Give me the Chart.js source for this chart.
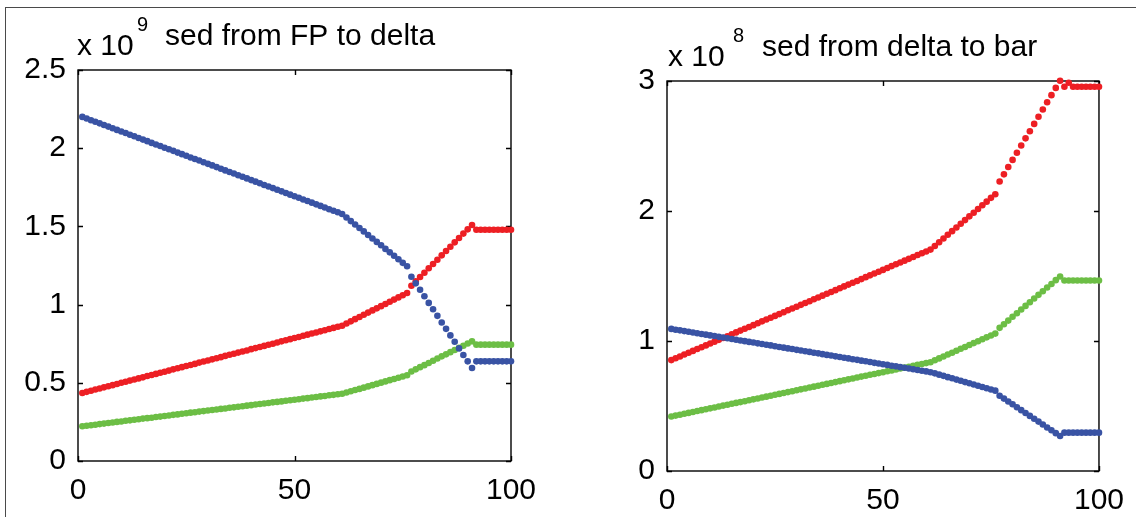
<!DOCTYPE html>
<html>
<head>
<meta charset="utf-8">
<script src="https://cdn.jsdelivr.net/npm/chart.js@4.4.1/dist/chart.umd.min.js"></script>
<style>
  html, body { margin: 0; padding: 0; background: #fff; }
  #page { position: relative; width: 1136px; height: 517px; overflow: hidden; background: #fff; }
  #frame { position: absolute; left: 5px; top: 7px; right: -5px; bottom: -5px;
           border-top: 1.5px solid #4a4a4a; border-left: 1.5px solid #4a4a4a; }
  canvas { position: absolute; top: 0; }
  #cLeft { left: 0; }
  #cRight { left: 568px; }
</style>
</head>
<body>
<div id="page">
  <div id="frame"></div>
  <canvas id="cLeft" width="568" height="517"></canvas>
  <canvas id="cRight" width="568" height="517"></canvas>
</div>
<script>
// Sample index along the run (1..100)
const steps = Array.from({ length: 100 }, (_, i) => i + 1);

// Sediment moved from FP to delta (units of 1e9)
const fpBlue = [
  2.200,2.190,2.179,2.169,2.159,2.148,2.138,2.128,2.117,2.107,
  2.097,2.086,2.076,2.065,2.055,2.045,2.034,2.024,2.014,2.003,
  1.993,1.983,1.972,1.962,1.952,1.941,1.931,1.921,1.910,1.900,
  1.890,1.879,1.869,1.858,1.848,1.838,1.827,1.817,1.807,1.796,
  1.786,1.776,1.765,1.755,1.745,1.734,1.724,1.714,1.703,1.693,
  1.683,1.672,1.662,1.652,1.641,1.631,1.621,1.610,1.600,1.590,
  1.579,1.557,1.534,1.512,1.490,1.468,1.445,1.423,1.401,1.379,
  1.356,1.334,1.312,1.290,1.267,1.245,1.178,1.136,1.095,1.053,
  1.011,0.970,0.928,0.886,0.845,0.803,0.762,0.720,0.678,0.637,
  0.595,0.637,0.637,0.637,0.637,0.637,0.637,0.637,0.637,0.637];
const fpRed = [
  0.435,0.442,0.449,0.457,0.464,0.471,0.478,0.485,0.492,0.500,
  0.507,0.514,0.521,0.528,0.535,0.543,0.550,0.557,0.564,0.571,
  0.578,0.586,0.593,0.600,0.607,0.614,0.621,0.629,0.636,0.643,
  0.650,0.657,0.664,0.672,0.679,0.686,0.693,0.700,0.707,0.715,
  0.722,0.729,0.736,0.743,0.750,0.758,0.765,0.772,0.779,0.786,
  0.793,0.801,0.808,0.815,0.822,0.829,0.836,0.844,0.851,0.858,
  0.865,0.879,0.893,0.907,0.921,0.935,0.949,0.963,0.976,0.990,
  1.004,1.018,1.032,1.046,1.060,1.074,1.121,1.149,1.176,1.204,
  1.232,1.260,1.287,1.315,1.343,1.370,1.398,1.426,1.454,1.481,
  1.509,1.479,1.479,1.479,1.479,1.479,1.479,1.479,1.479,1.479];
const fpGreen = [
  0.222,0.225,0.229,0.232,0.236,0.239,0.243,0.246,0.250,0.253,
  0.257,0.260,0.264,0.267,0.271,0.274,0.277,0.281,0.284,0.288,
  0.291,0.295,0.298,0.302,0.305,0.309,0.312,0.316,0.319,0.323,
  0.326,0.329,0.333,0.336,0.340,0.343,0.347,0.350,0.354,0.357,
  0.361,0.364,0.368,0.371,0.375,0.378,0.381,0.385,0.388,0.392,
  0.395,0.399,0.402,0.406,0.409,0.413,0.416,0.420,0.423,0.427,
  0.430,0.438,0.446,0.454,0.461,0.469,0.477,0.485,0.493,0.501,
  0.509,0.517,0.524,0.532,0.540,0.548,0.572,0.586,0.600,0.613,
  0.627,0.641,0.655,0.669,0.682,0.696,0.710,0.724,0.737,0.751,
  0.765,0.744,0.744,0.744,0.744,0.744,0.744,0.744,0.744,0.744];

// Sediment moved from delta to bar (units of 1e8)
const barRed = [
  0.853,0.867,0.881,0.896,0.910,0.924,0.938,0.952,0.966,0.981,
  0.995,1.009,1.023,1.037,1.051,1.066,1.080,1.094,1.108,1.122,
  1.136,1.151,1.165,1.179,1.193,1.207,1.221,1.236,1.250,1.264,
  1.278,1.292,1.306,1.321,1.335,1.349,1.363,1.377,1.391,1.406,
  1.420,1.434,1.448,1.462,1.476,1.491,1.505,1.519,1.533,1.547,
  1.561,1.576,1.590,1.604,1.618,1.632,1.646,1.661,1.675,1.689,
  1.703,1.731,1.760,1.788,1.817,1.845,1.873,1.902,1.930,1.959,
  1.987,2.015,2.044,2.072,2.101,2.129,2.227,2.282,2.338,2.393,
  2.448,2.504,2.559,2.614,2.670,2.725,2.781,2.836,2.891,2.947,
  3.002,2.956,2.987,2.956,2.956,2.956,2.956,2.956,2.956,2.956];
const barGreen = [
  0.419,0.426,0.433,0.440,0.447,0.454,0.461,0.468,0.475,0.482,
  0.489,0.496,0.503,0.510,0.517,0.524,0.530,0.537,0.544,0.551,
  0.558,0.565,0.572,0.579,0.586,0.593,0.600,0.607,0.614,0.621,
  0.628,0.635,0.642,0.649,0.656,0.663,0.670,0.677,0.684,0.691,
  0.698,0.705,0.712,0.719,0.726,0.733,0.740,0.746,0.753,0.760,
  0.767,0.774,0.781,0.788,0.795,0.802,0.809,0.816,0.823,0.830,
  0.837,0.852,0.866,0.881,0.896,0.910,0.925,0.940,0.954,0.969,
  0.984,0.998,1.013,1.028,1.042,1.057,1.101,1.129,1.157,1.186,
  1.214,1.242,1.270,1.298,1.327,1.355,1.383,1.411,1.439,1.468,
  1.496,1.465,1.465,1.465,1.465,1.465,1.465,1.465,1.465,1.465];
const barBlue = [
  1.093,1.087,1.082,1.076,1.071,1.065,1.060,1.054,1.049,1.043,
  1.038,1.032,1.027,1.021,1.015,1.010,1.004,0.999,0.993,0.988,
  0.982,0.977,0.971,0.966,0.960,0.954,0.949,0.943,0.938,0.932,
  0.927,0.921,0.916,0.910,0.905,0.899,0.893,0.888,0.882,0.877,
  0.871,0.866,0.860,0.855,0.849,0.844,0.838,0.832,0.827,0.821,
  0.816,0.810,0.805,0.799,0.794,0.788,0.783,0.777,0.771,0.766,
  0.760,0.751,0.741,0.732,0.722,0.713,0.703,0.694,0.684,0.675,
  0.665,0.656,0.646,0.637,0.627,0.618,0.579,0.557,0.535,0.513,
  0.490,0.468,0.446,0.424,0.402,0.380,0.358,0.335,0.313,0.291,
  0.269,0.295,0.295,0.295,0.295,0.295,0.295,0.295,0.295,0.295];

// Axis ranges and tick spacing
const xTicks = [0, 50, 100];
const fpYTicks = [0, 0.5, 1, 1.5, 2, 2.5];
const barYTicks = [0, 1, 2, 3];

const FONT = "'Liberation Sans', Arial, sans-serif";
const BLUE = 'rgb(57,83,164)';
const RED = 'rgb(237,31,36)';
const GREEN = 'rgb(108,190,69)';

function series(values, color) {
  return {
    data: values.map((v, i) => ({ x: steps[i], y: v })),
    showLine: false,
    pointRadius: 3.3,
    pointHoverRadius: 3.3,
    pointBorderWidth: 0,
    pointBackgroundColor: color,
    pointBorderColor: color,
    clip: false
  };
}

// Boxed axes with inward tick marks, plus the exponent and title text
const boxPlugin = {
  id: 'box',
  beforeDatasetsDraw(chart) {
    const { ctx, chartArea: a, scales } = chart;
    ctx.save();
    ctx.strokeStyle = '#000';
    ctx.lineWidth = 1.4;
    ctx.strokeRect(a.left, a.top, a.right - a.left, a.bottom - a.top);
    const len = 5;
    ctx.beginPath();
    scales.x.ticks.forEach(t => {
      const px = Math.round(scales.x.getPixelForValue(t.value)) + 0.5;
      ctx.moveTo(px, a.bottom); ctx.lineTo(px, a.bottom - len);
      ctx.moveTo(px, a.top); ctx.lineTo(px, a.top + len);
    });
    scales.y.ticks.forEach(t => {
      const py = Math.round(scales.y.getPixelForValue(t.value)) + 0.5;
      ctx.moveTo(a.left, py); ctx.lineTo(a.left + len, py);
      ctx.moveTo(a.right, py); ctx.lineTo(a.right - len, py);
    });
    ctx.stroke();
    ctx.restore();
  },
  afterDraw(chart, args, opts) {
    const { ctx } = chart;
    ctx.save();
    ctx.fillStyle = '#000';
    ctx.textBaseline = 'alphabetic';
    ctx.textAlign = 'left';
    ctx.font = '30px ' + FONT;
    ctx.fillText('x 10', opts.expX, opts.expY);
    ctx.fillText(opts.title, opts.titleX, opts.titleY);
    ctx.font = '20px ' + FONT;
    ctx.fillText(opts.power, opts.powX, opts.powY);
    ctx.restore();
  }
};

function makeChart(id, sets, yTicks, yMax, area, text) {
  const cv = document.getElementById(id);
  return new Chart(cv, {
    type: 'scatter',
    data: { datasets: sets },
    plugins: [boxPlugin],
    options: {
      responsive: false,
      animation: false,
      events: [],
      layout: { padding: { left: 0, top: area.top, right: cv.width - area.right, bottom: 0 } },
      plugins: { legend: { display: false }, tooltip: { enabled: false }, box: text },
      scales: {
        x: {
          type: 'linear', min: 0, max: 100,
          grid: { display: false, drawTicks: false },
          border: { display: false },
          afterBuildTicks: s => { s.ticks = xTicks.map(v => ({ value: v })); },
          afterFit: s => { s.height = cv.height - area.bottom; },
          ticks: { padding: 12, color: '#000', font: { family: FONT, size: 30 }, maxRotation: 0,
                   callback: v => String(v) }
        },
        y: {
          type: 'linear', min: 0, max: yMax,
          grid: { display: false, drawTicks: false },
          border: { display: false },
          afterBuildTicks: s => { s.ticks = yTicks.map(v => ({ value: v })); },
          afterFit: s => { s.width = area.left; },
          ticks: { padding: 12, color: '#000', font: { family: FONT, size: 30 },
                   callback: v => String(v) }
        }
      }
    }
  });
}

makeChart('cLeft',
  [series(fpBlue, BLUE), series(fpRed, RED), series(fpGreen, GREEN)],
  fpYTicks, 2.5,
  { left: 78, right: 511, top: 70, bottom: 461 },
  { expX: 77, expY: 55, power: '9', powX: 137, powY: 31, title: 'sed from FP to delta', titleX: 165, titleY: 45 });

makeChart('cRight',
  [series(barBlue, BLUE), series(barRed, RED), series(barGreen, GREEN)],
  barYTicks, 3,
  { left: 99, right: 532, top: 81, bottom: 471 },
  { expX: 100, expY: 66, power: '8', powX: 165, powY: 42, title: 'sed from delta to bar', titleX: 194, titleY: 56 });
</script>
</body>
</html>
